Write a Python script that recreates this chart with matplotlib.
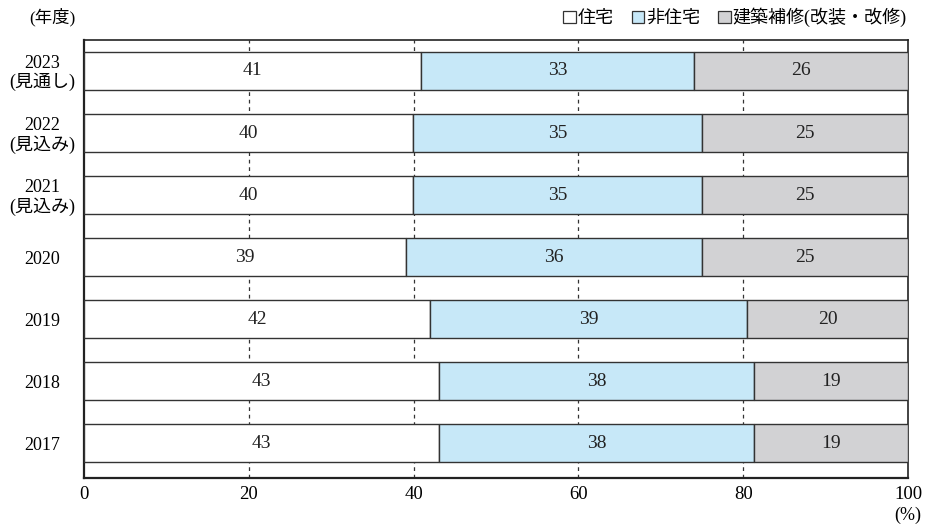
import matplotlib
matplotlib.use('Agg')
import matplotlib.pyplot as plt
from matplotlib.patches import Patch

plt.rcParams['font.family'] = ['Liberation Serif', 'Noto Sans CJK JP']

# data, top row first
years = ['2023\n(見通し)', '2022\n(見込み)', '2021\n(見込み)', '2020', '2019', '2018', '2017']
housing = [40.9, 39.9, 39.9, 39.1, 42.0, 43.1, 43.1]
nonhousing = [33.1, 35.1, 35.1, 35.9, 38.5, 38.2, 38.2]
repair = [26.0, 25.0, 25.0, 25.0, 19.5, 18.7, 18.7]
housing_lbl = [41, 40, 40, 39, 42, 43, 43]
nonhousing_lbl = [33, 35, 35, 36, 39, 38, 38]
repair_lbl = [26, 25, 25, 25, 20, 19, 19]
series_names = ['住宅', '非住宅', '建築補修(改装・改修)']
colors = ['#ffffff', '#c7e8f8', '#d2d2d4']

fig = plt.figure(figsize=(9.25, 5.26), dpi=100)
ax = fig.add_axes([0.0908, 0.0913, 0.8908, 0.8327])

ypos = list(range(len(years)))[::-1]
lefts = [0] * len(years)
for vals, lbls, col in zip([housing, nonhousing, repair],
                           [housing_lbl, nonhousing_lbl, repair_lbl], colors):
    ax.barh(ypos, vals, left=lefts, height=0.61, color=col,
            edgecolor='#333333', linewidth=1.0, zorder=3)
    for y, l, v, t in zip(ypos, lefts, vals, lbls):
        ax.text(l + v / 2, y, str(t), ha='center', va='center',
                fontsize=14, color='#222222', zorder=4)
    lefts = [a + b for a, b in zip(lefts, vals)]

ax.set_xlim(0, 100)
ax.set_ylim(-0.56, 6.5)
ax.set_xticks([0, 20, 40, 60, 80, 100])
ax.set_xticklabels(['0', '20', '40', '60', '80', '100'], fontsize=13.5)
ax.set_yticks(ypos)
ax.set_yticklabels(years, fontsize=13, ha='center', linespacing=1.05)
ax.tick_params(axis='y', length=0, pad=30)
ax.tick_params(axis='x', length=0, pad=6)
for x in [20, 40, 60, 80]:
    ax.axvline(x, color='#333333', linestyle=(0, (3, 3)), linewidth=0.9, zorder=1)
for s in ax.spines.values():
    s.set_color('#222222')
    s.set_linewidth(1.2)
ax.spines['left'].set_linewidth(1.6)
ax.spines['bottom'].set_linewidth(1.6)

handles = [Patch(facecolor=c, edgecolor='#333333', linewidth=0.9) for c in colors]
ax.legend(handles, series_names, loc='lower right', bbox_to_anchor=(1.014, 1.0),
          ncol=3, frameon=False, fontsize=13, handlelength=0.7, handleheight=0.7,
          handletextpad=0.1, columnspacing=1.0, borderaxespad=0.3)

fig.text(0.032, 0.968, '(年度)', fontsize=12.5, va='center', ha='left')
fig.text(0.981, 0.02, '(%)', fontsize=13, va='center', ha='center')

fig.savefig('out.png', dpi=100)
